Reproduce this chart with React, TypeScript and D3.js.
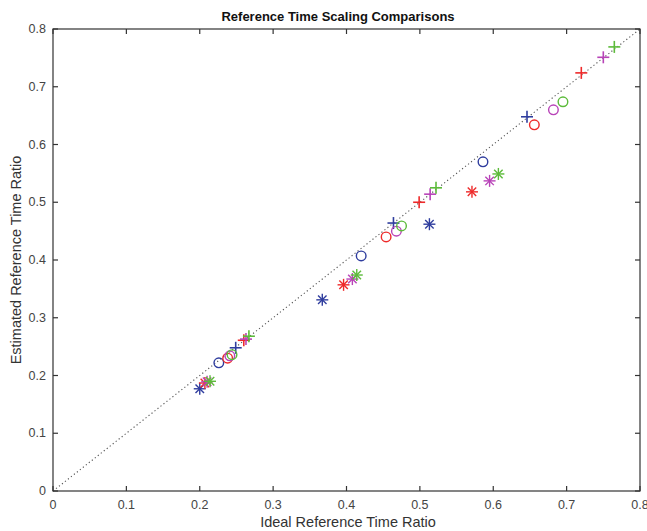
import React from "react";
import * as d3 from "d3";

// Ideal vs estimated reference time ratios, grouped by configuration (colour)
const seriesNames = ["cfgA", "cfgB", "cfgC", "cfgD"];
const seriesColors = ["#2f3d9e", "#ee2a2a", "#b843b8", "#5cbb3a"];

// Asterisk markers
const starIdeal = [
  [0.200, 0.367, 0.513],
  [0.207, 0.396, 0.571],
  [0.210, 0.408, 0.595],
  [0.214, 0.414, 0.607],
];
const starEst = [
  [0.177, 0.331, 0.462],
  [0.187, 0.357, 0.518],
  [0.189, 0.367, 0.537],
  [0.190, 0.374, 0.549],
];

// Circle markers
const circIdeal = [
  [0.226, 0.420, 0.586],
  [0.238, 0.454, 0.656],
  [0.241, 0.468, 0.682],
  [0.244, 0.475, 0.695],
];
const circEst = [
  [0.222, 0.407, 0.570],
  [0.230, 0.440, 0.634],
  [0.234, 0.450, 0.660],
  [0.236, 0.459, 0.674],
];

// Plus markers
const plusIdeal = [
  [0.249, 0.464, 0.646],
  [0.260, 0.499, 0.720],
  [0.263, 0.514, 0.750],
  [0.267, 0.522, 0.765],
];
const plusEst = [
  [0.248, 0.464, 0.648],
  [0.261, 0.500, 0.724],
  [0.263, 0.514, 0.751],
  [0.268, 0.525, 0.769],
];

const xTicks = [0, 0.1, 0.2, 0.3, 0.4, 0.5, 0.6, 0.7, 0.8];
const yTicks = [0, 0.1, 0.2, 0.3, 0.4, 0.5, 0.6, 0.7, 0.8];

const W = 647;
const H = 531;
const L = 53;
const R = 640;
const T = 29;
const B = 491;
const FONT = "'Liberation Sans', Arial, sans-serif";

const x = d3.scaleLinear().domain([0, 0.8]).range([L, R]);
const y = d3.scaleLinear().domain([0, 0.8]).range([B, T]);

function Star({ cx, cy, color }: { cx: number; cy: number; color: string }) {
  const r = 6;
  const d = r * Math.SQRT1_2;
  return (
    <g stroke={color} strokeWidth={1.4}>
      <line x1={cx - r} y1={cy} x2={cx + r} y2={cy} />
      <line x1={cx} y1={cy - r} x2={cx} y2={cy + r} />
      <line x1={cx - d} y1={cy - d} x2={cx + d} y2={cy + d} />
      <line x1={cx - d} y1={cy + d} x2={cx + d} y2={cy - d} />
    </g>
  );
}

function Plus({ cx, cy, color }: { cx: number; cy: number; color: string }) {
  const r = 6;
  return (
    <g stroke={color} strokeWidth={1.6}>
      <line x1={cx - r} y1={cy} x2={cx + r} y2={cy} />
      <line x1={cx} y1={cy - r} x2={cx} y2={cy + r} />
    </g>
  );
}

export default function App() {
  const tickLen = 5;
  const diag = d3.line<number>().x((v) => x(v)).y((v) => y(v));
  return (
    <svg
      width={W}
      height={H}
      style={{ position: "absolute", left: 0, top: 0, background: "#fff" }}
      fontFamily={FONT}
    >
      <rect x={0} y={0} width={W} height={H} fill="#fff" />
      {/* identity reference line */}
      <path
        d={diag([0, 0.8]) || ""}
        stroke="#555"
        strokeWidth={1.1}
        strokeDasharray="1.2 2.6"
        fill="none"
      />

      {seriesNames.map((name, si) => (
        <g key={name}>
          {starIdeal[si].map((v, i) => (
            <Star key={"s" + i} cx={x(v)} cy={y(starEst[si][i])} color={seriesColors[si]} />
          ))}
          {circIdeal[si].map((v, i) => (
            <circle
              key={"c" + i}
              cx={x(v)}
              cy={y(circEst[si][i])}
              r={4.8}
              fill="none"
              stroke={seriesColors[si]}
              strokeWidth={1.4}
            />
          ))}
          {plusIdeal[si].map((v, i) => (
            <Plus key={"p" + i} cx={x(v)} cy={y(plusEst[si][i])} color={seriesColors[si]} />
          ))}
        </g>
      ))}

      {/* box and ticks */}
      <rect x={L} y={T} width={R - L} height={B - T} fill="none" stroke="#333" strokeWidth={1.2} />
      {xTicks.map((t) => (
        <g key={"xt" + t}>
          <line x1={x(t)} x2={x(t)} y1={B} y2={B - tickLen} stroke="#333" strokeWidth={1.2} />
          <line x1={x(t)} x2={x(t)} y1={T} y2={T + tickLen} stroke="#333" strokeWidth={1.2} />
          <text x={x(t)} y={B + 18} textAnchor="middle" fontSize={12.5} fill="#444">
            {t === 0 ? "0" : String(t)}
          </text>
        </g>
      ))}
      {yTicks.map((t) => (
        <g key={"yt" + t}>
          <line x1={L} x2={L + tickLen} y1={y(t)} y2={y(t)} stroke="#333" strokeWidth={1.2} />
          <line x1={R} x2={R - tickLen} y1={y(t)} y2={y(t)} stroke="#333" strokeWidth={1.2} />
          <text x={L - 7} y={y(t) + 4} textAnchor="end" fontSize={12.5} fill="#444">
            {t === 0 ? "0" : String(t)}
          </text>
        </g>
      ))}

      <text x={338} y={21} textAnchor="middle" fontSize={13} fontWeight="bold" fill="#111">
        Reference Time Scaling Comparisons
      </text>
      <text x={348} y={527} textAnchor="middle" fontSize={14.5} fill="#333">
        Ideal Reference Time Ratio
      </text>
      <text
        transform={`translate(21, ${(T + B) / 2}) rotate(-90)`}
        textAnchor="middle"
        fontSize={14.5}
        fill="#333"
      >
        Estimated Reference Time Ratio
      </text>
    </svg>
  );
}
